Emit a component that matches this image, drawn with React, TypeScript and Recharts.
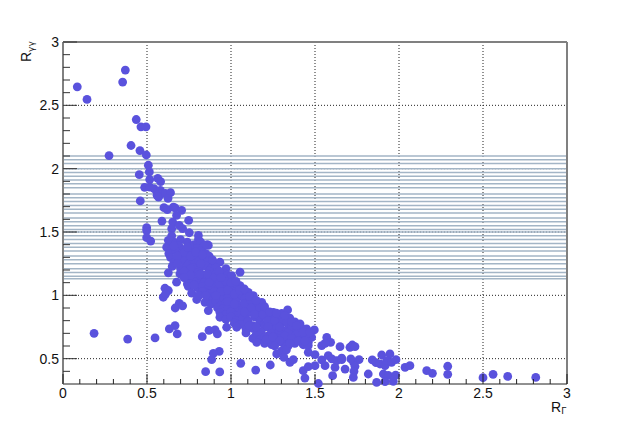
import React from 'react'
import {
  CartesianGrid,
  ReferenceLine,
  Scatter,
  ScatterChart,
  XAxis,
  YAxis,
} from 'recharts'

type Pair = [number, number]

const xMajor = [0, 0.5, 1, 1.5, 2, 2.5, 3]
const xMinor = [0.1, 0.2, 0.3, 0.4, 0.6, 0.7, 0.8, 0.9, 1.1, 1.2, 1.3, 1.4, 1.6, 1.7, 1.8, 1.9, 2.1, 2.2, 2.3, 2.4, 2.6, 2.7, 2.8, 2.9]
const yMajor = [0.5, 1, 1.5, 2, 2.5, 3]
const yMinor = [0.4, 0.6, 0.7, 0.8, 0.9, 1.1, 1.2, 1.3, 1.4, 1.6, 1.7, 1.8, 1.9, 2.1, 2.2, 2.3, 2.4, 2.6, 2.7, 2.8, 2.9]

const bandLevels = [
  2.1, 2.07, 2.04, 2.0, 1.97, 1.94, 1.91, 1.88, 1.85, 1.8, 1.77, 1.74, 1.71, 1.68, 1.65, 1.61, 1.58, 1.55,
  1.52, 1.5, 1.47, 1.44, 1.41, 1.38, 1.35, 1.31, 1.28, 1.25, 1.21, 1.18, 1.15, 1.13,
]

const upperBranch: Pair[] = [
  [0.085, 2.646], [0.143, 2.547], [0.355, 2.684], [0.371, 2.778], [0.436, 2.388], [0.464, 2.33], [0.494, 2.33],
  [0.405, 2.183], [0.274, 2.103], [0.458, 2.143], [0.496, 2.108], [0.508, 2.027], [0.514, 1.974], [0.454, 1.953],
  [0.516, 1.914], [0.564, 1.924], [0.581, 1.898], [0.486, 1.853], [0.516, 1.855], [0.542, 1.842], [0.559, 1.815],
  [0.58, 1.828], [0.569, 1.775], [0.589, 1.805], [0.609, 1.805], [0.64, 1.81], [0.625, 1.765], [0.46, 1.745],
  [0.56, 1.79], [0.601, 1.692], [0.621, 1.676], [0.657, 1.697], [0.667, 1.69], [0.706, 1.671], [0.676, 1.631],
  [0.653, 1.578], [0.589, 1.586], [0.748, 1.592], [0.647, 1.526], [0.692, 1.553], [0.712, 1.526], [0.752, 1.494],
  [0.498, 1.534], [0.498, 1.51], [0.498, 1.455], [0.522, 1.428], [0.647, 1.47], [0.66, 1.42], [0.627, 1.434],
  [0.806, 1.473], [0.806, 1.44], [0.859, 1.4], [0.617, 1.38], [0.865, 1.394],
]

const coreBand: Pair[] = [
  [0.64, 1.43], [0.67, 1.41], [0.7, 1.44], [0.74, 1.42], [0.78, 1.4], [0.82, 1.42],
  [0.65, 1.37], [0.69, 1.39], [0.72, 1.36], [0.76, 1.38], [0.8, 1.37], [0.84, 1.39],
  [0.63, 1.33], [0.67, 1.35], [0.71, 1.33], [0.75, 1.34], [0.78, 1.32], [0.82, 1.35], [0.85, 1.33],
  [0.64, 1.3], [0.7, 1.29], [0.73, 1.31], [0.77, 1.28], [0.8, 1.3], [0.84, 1.29], [0.87, 1.31],
  [0.66, 1.26], [0.72, 1.27], [0.75, 1.25], [0.79, 1.26], [0.83, 1.24], [0.86, 1.27], [0.9, 1.25], [0.934, 1.262],
  [0.65, 1.228], [0.7, 1.21], [0.74, 1.23], [0.78, 1.22], [0.81, 1.2], [0.85, 1.23], [0.88, 1.21], [0.91, 1.22], [0.97, 1.21],
  [0.627, 1.178], [0.696, 1.17], [0.74, 1.19], [0.77, 1.17], [0.8, 1.18], [0.84, 1.16], [0.87, 1.19], [0.91, 1.17], [0.95, 1.18], [0.98, 1.16], [1.054, 1.183],
  [0.76, 1.13], [0.79, 1.15], [0.82, 1.13], [0.85, 1.14], [0.88, 1.12], [0.92, 1.15], [0.96, 1.13], [1.004, 1.156],
  [0.676, 1.104], [0.74, 1.09], [0.78, 1.11], [0.81, 1.09], [0.84, 1.1], [0.88, 1.08], [0.91, 1.11], [0.95, 1.09], [0.99, 1.1], [1.02, 1.08],
  [0.746, 1.07], [0.8, 1.06], [0.83, 1.07], [0.86, 1.05], [0.89, 1.07], [0.92, 1.05], [0.96, 1.06], [1.0, 1.04], [1.04, 1.07], [1.054, 1.077],
  [0.766, 1.017], [0.84, 1.03], [0.87, 1.01], [0.9, 1.03], [0.93, 1.01], [0.96, 1.02], [1.0, 1.0], [1.03, 1.03], [1.07, 1.01], [1.103, 1.024],
  [0.796, 0.967], [0.86, 0.98], [0.89, 0.96], [0.92, 0.99], [0.95, 0.97], [0.98, 0.98], [1.01, 0.96], [1.05, 0.99], [1.08, 0.97], [1.133, 0.998],
  [0.845, 0.945], [0.88, 0.93], [0.91, 0.95], [0.94, 0.92], [0.97, 0.94], [1.0, 0.93], [1.03, 0.95], [1.06, 0.92], [1.1, 0.94], [1.14, 0.93], [1.183, 0.945],
  [0.865, 0.88], [0.92, 0.9], [0.95, 0.89], [0.98, 0.91], [1.01, 0.88], [1.04, 0.9], [1.07, 0.89], [1.1, 0.91], [1.14, 0.88], [1.17, 0.9],
  [0.934, 0.866], [0.97, 0.85], [1.0, 0.87], [1.03, 0.84], [1.06, 0.86], [1.09, 0.85], [1.12, 0.87], [1.16, 0.84], [1.202, 0.885], [1.252, 0.866], [1.302, 0.858], [1.337, 0.885],
  [0.934, 0.827], [0.97, 0.81], [1.0, 0.83], [1.03, 0.8], [1.07, 0.82], [1.1, 0.8], [1.14, 0.83], [1.17, 0.81], [1.2, 0.84], [1.24, 0.82], [1.28, 0.83], [1.31, 0.81], [1.35, 0.82],
  [0.974, 0.748], [1.02, 0.78], [1.06, 0.77], [1.1, 0.79], [1.13, 0.76], [1.17, 0.78], [1.2, 0.77], [1.24, 0.79], [1.27, 0.76], [1.3, 0.78], [1.34, 0.77], [1.38, 0.79], [1.411, 0.774],
  [1.034, 0.748], [1.09, 0.73], [1.13, 0.74], [1.16, 0.72], [1.2, 0.75], [1.24, 0.73], [1.27, 0.74], [1.31, 0.72], [1.35, 0.75], [1.38, 0.73], [1.42, 0.74], [1.45, 0.735], [1.496, 0.727],
  [1.089, 0.703], [1.15, 0.69], [1.18, 0.71], [1.22, 0.68], [1.26, 0.7], [1.3, 0.69], [1.34, 0.71], [1.38, 0.68], [1.42, 0.7], [1.46, 0.69], [1.48, 0.668],
  [1.13, 0.66], [1.17, 0.65], [1.2, 0.67], [1.24, 0.64], [1.28, 0.66], [1.33, 0.65], [1.38, 0.64], [1.42, 0.66], [1.46, 0.63],
  [1.153, 0.629], [1.2, 0.62], [1.242, 0.611], [1.3, 0.63], [1.34, 0.6], [1.321, 0.59], [1.38, 0.62], [1.43, 0.61], [1.46, 0.603],
  [1.272, 0.537], [1.3, 0.56], [1.33, 0.57], [1.315, 0.51], [1.351, 0.471], [1.371, 0.492], [1.46, 0.55], [1.5, 0.532],
  [0.72, 1.34], [0.76, 1.31], [0.79, 1.34], [0.81, 1.27], [0.76, 1.21], [0.82, 1.17], [0.86, 1.17], [0.9, 1.14], [0.87, 1.1],
  [0.93, 1.09], [0.97, 1.11], [0.94, 1.03], [0.98, 1.04], [1.02, 1.01], [1.05, 1.04], [0.98, 0.95], [1.02, 0.93], [1.08, 0.93],
  [1.12, 0.96], [1.12, 0.9], [1.08, 0.87], [1.14, 0.85], [1.19, 0.85], [1.22, 0.8], [1.26, 0.8], [1.29, 0.85], [1.33, 0.79],
  [1.11, 0.76], [1.15, 0.75], [1.22, 0.75], [1.29, 0.75], [1.36, 0.76], [1.4, 0.71], [1.44, 0.68], [1.24, 0.7], [1.32, 0.68],
  [1.21, 0.65], [1.36, 0.66], [1.4, 0.64], [1.44, 0.64],
  [0.68, 1.31], [0.66, 1.39], [0.74, 1.38], [0.83, 1.32], [0.68, 1.25], [0.72, 1.19], [0.76, 1.16], [0.82, 1.25], [0.89, 1.28],
  [0.93, 1.19], [0.94, 1.14], [0.72, 1.14], [0.78, 1.08], [0.83, 1.03], [0.81, 1.0], [0.85, 1.0], [0.91, 1.0], [1.0, 1.1], [1.03, 1.11],
  [1.08, 1.05], [1.11, 0.99], [1.15, 0.96], [1.2, 0.91], [1.23, 0.87], [1.27, 0.86], [1.32, 0.84], [1.36, 0.79], [1.39, 0.76],
  [1.43, 0.71], [1.47, 0.71], [1.25, 0.67], [1.29, 0.64], [1.35, 0.62], [1.26, 0.6],
]

const lowerScatter: Pair[] = [
  [0.607, 1.056], [0.627, 1.038], [0.597, 0.985], [0.61, 1.01], [0.692, 0.937], [0.668, 0.9], [0.712, 0.917],
  [0.667, 0.761], [0.633, 0.735], [0.68, 0.695], [0.548, 0.664], [0.829, 0.674], [0.869, 0.724], [0.905, 0.727],
  [0.919, 0.695], [0.93, 0.558], [0.895, 0.542], [0.885, 0.492], [0.849, 0.397], [0.933, 0.395], [1.058, 0.463],
  [1.147, 0.41], [1.234, 0.45], [0.185, 0.7], [0.385, 0.655], [1.43, 0.405], [1.46, 0.437], [1.5, 0.445],
  [1.44, 0.347], [1.52, 0.304],
]

const rightTail: Pair[] = [
  [1.54, 0.603], [1.57, 0.668], [1.593, 0.629], [1.56, 0.62], [1.54, 0.49], [1.579, 0.524], [1.56, 0.445],
  [1.6, 0.498], [1.619, 0.431], [1.629, 0.484], [1.659, 0.505], [1.649, 0.595], [1.605, 0.366], [1.679, 0.418],
  [1.708, 0.59], [1.722, 0.608], [1.738, 0.595], [1.659, 0.492], [1.713, 0.498], [1.73, 0.47], [1.762, 0.492],
  [1.738, 0.44], [1.732, 0.4], [1.728, 0.352], [1.817, 0.379], [1.841, 0.49], [1.863, 0.468], [1.897, 0.529],
  [1.946, 0.537], [1.887, 0.458], [1.917, 0.445], [1.926, 0.484], [1.956, 0.471], [1.982, 0.492], [1.907, 0.379],
  [1.936, 0.368], [1.98, 0.37], [1.867, 0.313], [1.917, 0.318], [1.966, 0.321], [2.036, 0.431], [2.065, 0.445],
  [2.165, 0.405], [2.199, 0.384], [2.29, 0.44], [2.29, 0.376], [2.5, 0.35], [2.56, 0.376], [2.647, 0.36], [2.814, 0.352],
]

const points = [...upperBranch, ...coreBand, ...lowerScatter, ...rightTail].map(([x, y]) => ({ x, y }))

const FONT = '"Liberation Sans", Arial, sans-serif'
const MARKER = '#5a52dd'
const FRAME = '#808080'

function Dot(props: any) {
  return <circle cx={props.cx} cy={props.cy} r={4.4} fill={MARKER} />
}

function XTick(props: any) {
  const major = xMajor.includes(props.payload.value)
  return (
    <g>
      <line x1={props.x} x2={props.x} y1={384} y2={major ? 374 : 379} stroke="#222" />
      {major && (
        <text x={props.x} y={398} textAnchor="middle" fontSize={14} fontFamily={FONT} fill="#111">
          {props.payload.value}
        </text>
      )}
    </g>
  )
}

function YTick(props: any) {
  const major = yMajor.includes(props.payload.value)
  return (
    <g>
      <line x1={63} x2={major ? 77 : 70} y1={props.y} y2={props.y} stroke="#333" />
      {major && (
        <text x={59} y={props.y + 5} textAnchor="end" fontSize={14} fontFamily={FONT} fill="#111">
          {props.payload.value}
        </text>
      )}
    </g>
  )
}

function XTitle() {
  return (
    <text x={551} y={412} fontSize={14} fontFamily={FONT} fill="#111">
      R<tspan fontSize={9} dy={2} fontFamily="DejaVu Sans">Γ</tspan>
    </text>
  )
}

function YTitle() {
  return (
    <text transform="translate(31,62) rotate(-90)" fontSize={14} fontFamily={FONT} fill="#111">
      R<tspan fontSize={9} dy={3} fontFamily="DejaVu Sans">γγ</tspan>
    </text>
  )
}

export default function App(): React.ReactElement {
  return (
    <div style={{ position: 'absolute', left: 0, top: 0 }}>
      <ScatterChart width={630} height={427} margin={{ left: 0, right: 63, top: 42, bottom: 0 }}>
        <XAxis
          type="number"
          dataKey="x"
          domain={[0, 3]}
          ticks={[...xMajor, ...xMinor]}
          interval={0}
          tick={<XTick />}
          tickLine={false}
          axisLine={{ stroke: '#222', strokeWidth: 1 }}
          height={43}
          label={{ content: <XTitle /> }}
        />
        <YAxis
          type="number"
          dataKey="y"
          domain={[0.3, 3]}
          ticks={[...yMajor, ...yMinor]}
          interval={0}
          tick={<YTick />}
          tickLine={false}
          axisLine={{ stroke: FRAME, strokeWidth: 2 }}
          width={63}
          label={{ content: <YTitle /> }}
        />
        {bandLevels.map((level) => (
          <ReferenceLine key={level} y={level} stroke="#a3b5c6" strokeWidth={1.5} />
        ))}
        <CartesianGrid
          horizontalValues={yMajor.slice(0, 5)}
          verticalValues={xMajor.slice(1, 6)}
          stroke="#222"
          strokeDasharray="1 2"
        />
        <ReferenceLine y={3} stroke={FRAME} strokeWidth={2} />
        <ReferenceLine x={3} stroke={FRAME} strokeWidth={2} />
        <Scatter data={points} shape={<Dot />} isAnimationActive={false} />
      </ScatterChart>
    </div>
  )
}
